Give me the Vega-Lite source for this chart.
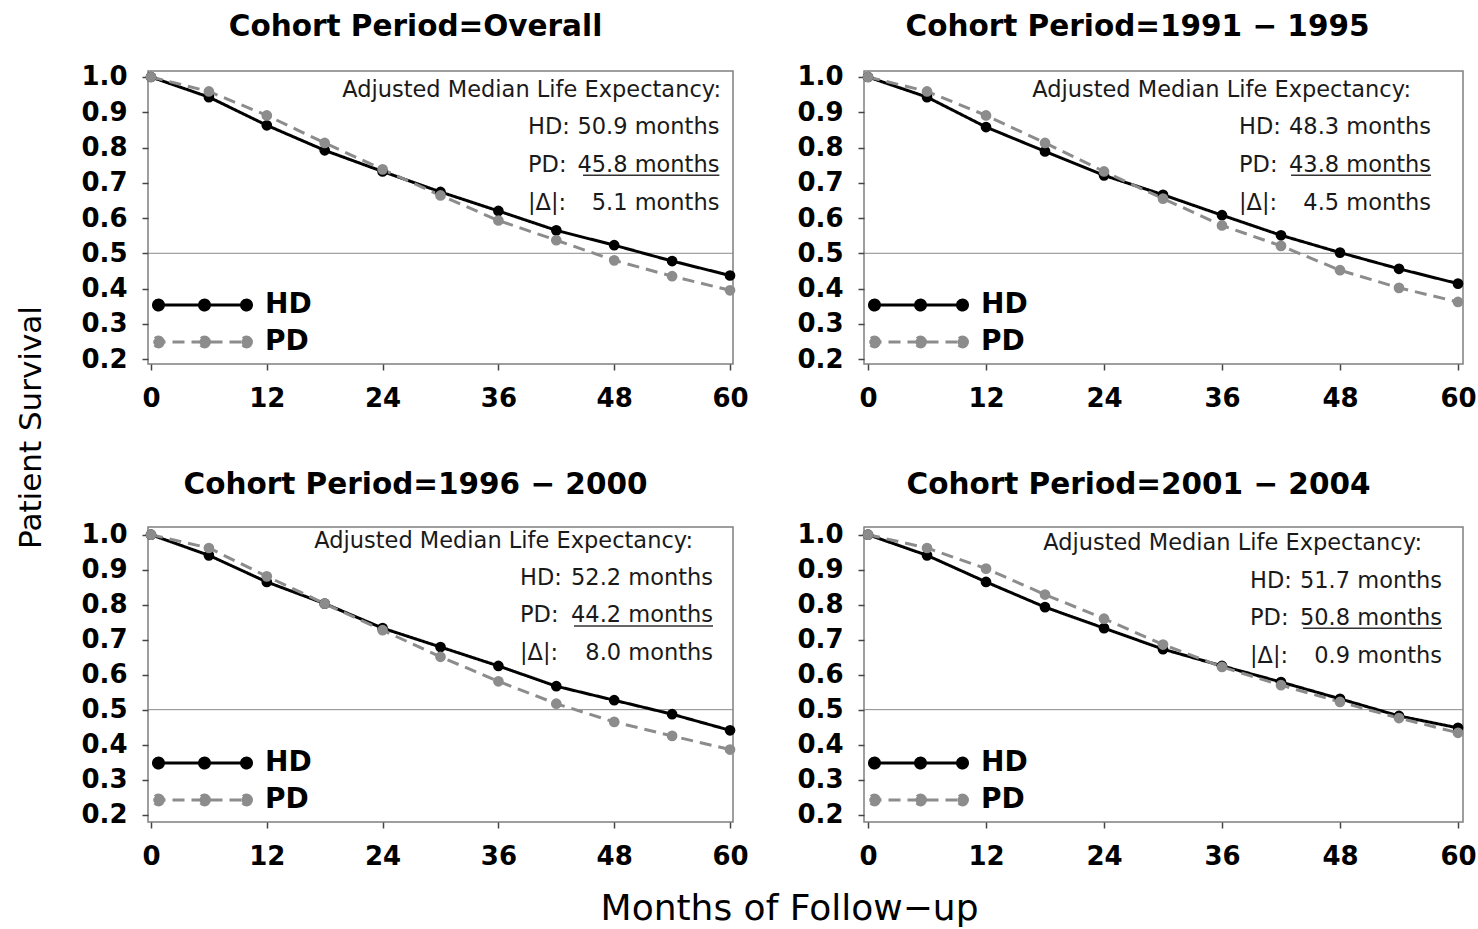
{
  "$schema": "https://vega.github.io/schema/vega-lite/v6.json",
  "background": "white",
  "padding": {"left": 14, "top": 11, "right": 5, "bottom": 0},
  "bounds": "flush",
  "align": "each",
  "columns": 2,
  "spacing": {"row": 163, "column": 131},
  "title": {"text": "Months of Follow−up", "orient": "bottom", "anchor": "middle", "frame": "bounds", "font": "DejaVu Sans", "fontSize": 36, "fontWeight": "normal", "baseline": "top", "offset": 22, "dx": 44},
  "resolve": {"scale": {"color": "independent", "strokeDash": "independent"}, "legend": {"color": "independent", "strokeDash": "independent"}},
  "datasets": {
    "surv": [
      {"panel":"Overall","group":"HD","month":0,"survival":1.0},
      {"panel":"Overall","group":"HD","month":6,"survival":0.943},
      {"panel":"Overall","group":"HD","month":12,"survival":0.863},
      {"panel":"Overall","group":"HD","month":18,"survival":0.792},
      {"panel":"Overall","group":"HD","month":24,"survival":0.732},
      {"panel":"Overall","group":"HD","month":30,"survival":0.674},
      {"panel":"Overall","group":"HD","month":36,"survival":0.620},
      {"panel":"Overall","group":"HD","month":42,"survival":0.565},
      {"panel":"Overall","group":"HD","month":48,"survival":0.523},
      {"panel":"Overall","group":"HD","month":54,"survival":0.478},
      {"panel":"Overall","group":"HD","month":60,"survival":0.437},
      {"panel":"Overall","group":"PD","month":0,"survival":1.0},
      {"panel":"Overall","group":"PD","month":6,"survival":0.959},
      {"panel":"Overall","group":"PD","month":12,"survival":0.891},
      {"panel":"Overall","group":"PD","month":18,"survival":0.813},
      {"panel":"Overall","group":"PD","month":24,"survival":0.738},
      {"panel":"Overall","group":"PD","month":30,"survival":0.664},
      {"panel":"Overall","group":"PD","month":36,"survival":0.593},
      {"panel":"Overall","group":"PD","month":42,"survival":0.537},
      {"panel":"Overall","group":"PD","month":48,"survival":0.480},
      {"panel":"Overall","group":"PD","month":54,"survival":0.435},
      {"panel":"Overall","group":"PD","month":60,"survival":0.395},
      {"panel":"1991-1995","group":"HD","month":0,"survival":1.0},
      {"panel":"1991-1995","group":"HD","month":6,"survival":0.943},
      {"panel":"1991-1995","group":"HD","month":12,"survival":0.858},
      {"panel":"1991-1995","group":"HD","month":18,"survival":0.789},
      {"panel":"1991-1995","group":"HD","month":24,"survival":0.721},
      {"panel":"1991-1995","group":"HD","month":30,"survival":0.666},
      {"panel":"1991-1995","group":"HD","month":36,"survival":0.608},
      {"panel":"1991-1995","group":"HD","month":42,"survival":0.551},
      {"panel":"1991-1995","group":"HD","month":48,"survival":0.502},
      {"panel":"1991-1995","group":"HD","month":54,"survival":0.456},
      {"panel":"1991-1995","group":"HD","month":60,"survival":0.414},
      {"panel":"1991-1995","group":"PD","month":0,"survival":1.0},
      {"panel":"1991-1995","group":"PD","month":6,"survival":0.959},
      {"panel":"1991-1995","group":"PD","month":12,"survival":0.891},
      {"panel":"1991-1995","group":"PD","month":18,"survival":0.813},
      {"panel":"1991-1995","group":"PD","month":24,"survival":0.732},
      {"panel":"1991-1995","group":"PD","month":30,"survival":0.655},
      {"panel":"1991-1995","group":"PD","month":36,"survival":0.579},
      {"panel":"1991-1995","group":"PD","month":42,"survival":0.521},
      {"panel":"1991-1995","group":"PD","month":48,"survival":0.452},
      {"panel":"1991-1995","group":"PD","month":54,"survival":0.402},
      {"panel":"1991-1995","group":"PD","month":60,"survival":0.362},
      {"panel":"1996-2000","group":"HD","month":0,"survival":1.0},
      {"panel":"1996-2000","group":"HD","month":6,"survival":0.941},
      {"panel":"1996-2000","group":"HD","month":12,"survival":0.865},
      {"panel":"1996-2000","group":"HD","month":18,"survival":0.803},
      {"panel":"1996-2000","group":"HD","month":24,"survival":0.733},
      {"panel":"1996-2000","group":"HD","month":30,"survival":0.679},
      {"panel":"1996-2000","group":"HD","month":36,"survival":0.625},
      {"panel":"1996-2000","group":"HD","month":42,"survival":0.567},
      {"panel":"1996-2000","group":"HD","month":48,"survival":0.527},
      {"panel":"1996-2000","group":"HD","month":54,"survival":0.487},
      {"panel":"1996-2000","group":"HD","month":60,"survival":0.441},
      {"panel":"1996-2000","group":"PD","month":0,"survival":1.0},
      {"panel":"1996-2000","group":"PD","month":6,"survival":0.962},
      {"panel":"1996-2000","group":"PD","month":12,"survival":0.881},
      {"panel":"1996-2000","group":"PD","month":18,"survival":0.803},
      {"panel":"1996-2000","group":"PD","month":24,"survival":0.727},
      {"panel":"1996-2000","group":"PD","month":30,"survival":0.651},
      {"panel":"1996-2000","group":"PD","month":36,"survival":0.581},
      {"panel":"1996-2000","group":"PD","month":42,"survival":0.517},
      {"panel":"1996-2000","group":"PD","month":48,"survival":0.465},
      {"panel":"1996-2000","group":"PD","month":54,"survival":0.425},
      {"panel":"1996-2000","group":"PD","month":60,"survival":0.386},
      {"panel":"2001-2004","group":"HD","month":0,"survival":1.0},
      {"panel":"2001-2004","group":"HD","month":6,"survival":0.941},
      {"panel":"2001-2004","group":"HD","month":12,"survival":0.865},
      {"panel":"2001-2004","group":"HD","month":18,"survival":0.793},
      {"panel":"2001-2004","group":"HD","month":24,"survival":0.733},
      {"panel":"2001-2004","group":"HD","month":30,"survival":0.673},
      {"panel":"2001-2004","group":"HD","month":36,"survival":0.625},
      {"panel":"2001-2004","group":"HD","month":42,"survival":0.579},
      {"panel":"2001-2004","group":"HD","month":48,"survival":0.531},
      {"panel":"2001-2004","group":"HD","month":54,"survival":0.482},
      {"panel":"2001-2004","group":"HD","month":60,"survival":0.448},
      {"panel":"2001-2004","group":"PD","month":0,"survival":1.0},
      {"panel":"2001-2004","group":"PD","month":6,"survival":0.962},
      {"panel":"2001-2004","group":"PD","month":12,"survival":0.903},
      {"panel":"2001-2004","group":"PD","month":18,"survival":0.829},
      {"panel":"2001-2004","group":"PD","month":24,"survival":0.760},
      {"panel":"2001-2004","group":"PD","month":30,"survival":0.686},
      {"panel":"2001-2004","group":"PD","month":36,"survival":0.622},
      {"panel":"2001-2004","group":"PD","month":42,"survival":0.570},
      {"panel":"2001-2004","group":"PD","month":48,"survival":0.522},
      {"panel":"2001-2004","group":"PD","month":54,"survival":0.476},
      {"panel":"2001-2004","group":"PD","month":60,"survival":0.434}
    ],
    "notes": [
      {"panel":"Overall","heading":"Adjusted Median Life Expectancy:","hd":"50.9 months","pd":"45.8 months","delta":"5.1 months"},
      {"panel":"1991-1995","heading":"Adjusted Median Life Expectancy:","hd":"48.3 months","pd":"43.8 months","delta":"4.5 months"},
      {"panel":"1996-2000","heading":"Adjusted Median Life Expectancy:","hd":"52.2 months","pd":"44.2 months","delta":"8.0 months"},
      {"panel":"2001-2004","heading":"Adjusted Median Life Expectancy:","hd":"51.7 months","pd":"50.8 months","delta":"0.9 months"}
    ]
  },
  "concat": [
    {
      "width": 585, "height": 293,
      "title": {"text": "Cohort  Period=Overall", "dx": -25},
      "layer": [
        {"data": {"values": [{}]}, "mark": {"type": "rule", "color": "#8a8a8a", "strokeWidth": 1}, "encoding": {"y": {"datum": 0.5, "type": "quantitative", "scale": {"domain": [0.186, 1.017], "nice": false, "zero": false}, "axis": {"values": [0.2,0.3,0.4,0.5,0.6,0.7,0.8,0.9,1.0], "format": ".1f", "labelOverlap": false, "tickCount": 9, "title": "Patient Survival", "titleX": -117, "titleY": 356, "titleAngle": -90, "titleAlign": "center", "titleBaseline": "middle"}}}},
        {"data": {"name": "surv"}, "transform": [{"filter": {"field": "panel", "equal": "Overall"}}],
         "mark": {"type": "line", "strokeWidth": 3},
         "encoding": {
           "x": {"field": "month", "type": "quantitative", "scale": {"domain": [-0.31, 60.31], "nice": false, "zero": false}, "axis": {"values": [0,12,24,36,48,60], "title": null, "labelOverlap": false}},
           "y": {"field": "survival", "type": "quantitative", "scale": {"domain": [0.186, 1.017], "nice": false, "zero": false}, "axis": {"values": [0.2,0.3,0.4,0.5,0.6,0.7,0.8,0.9,1.0], "format": ".1f", "labelOverlap": false, "tickCount": 9, "title": "Patient Survival", "titleX": -117, "titleY": 356, "titleAngle": -90, "titleAlign": "center", "titleBaseline": "middle"}},
           "color": {"field": "group", "type": "nominal", "scale": {"domain": ["HD","PD"], "range": ["#000000","#8c8c8c"]},
             "legend": {"title": null, "orient": "bottom-left", "offset": 8, "padding": 0,
               "symbolType": "M-2.75,0L13.25,0M-1.09,0C-1.09,0.458,-1.462,0.83,-1.92,0.83C-2.378,0.83,-2.75,0.458,-2.75,0C-2.75,-0.458,-2.378,-0.83,-1.92,-0.83C-1.462,-0.83,-1.09,-0.458,-1.09,0ZM6.58,0C6.58,0.458,6.208,0.83,5.75,0.83C5.292,0.83,4.92,0.458,4.92,0C4.92,-0.458,5.292,-0.83,5.75,-0.83C6.208,-0.83,6.58,-0.458,6.58,0ZM13.58,0C13.58,0.458,13.208,0.83,12.75,0.83C12.292,0.83,11.92,0.458,11.92,0C11.92,-0.458,12.292,-0.83,12.75,-0.83C13.208,-0.83,13.58,-0.458,13.58,0Z",
               "symbolSize": 144, "symbolStrokeWidth": 3,
               "labelFont": "DejaVu Sans", "labelFontSize": 28, "labelFontWeight": "bold", "labelColor": "#000000", "labelOffset": 81, "rowPadding": 9,
               "encode": {"symbols": {"update": {
                 "fill": {"condition": {"test": "datum.value === 'PD'", "value": "#8c8c8c"}, "value": "#000000"},
                 "stroke": {"condition": {"test": "datum.value === 'PD'", "value": "#8c8c8c"}, "value": "#000000"},
                 "strokeDash": {"condition": {"test": "datum.value === 'PD'", "value": [12,7]}, "value": [1,0]},
                 "opacity": {"value": 1}}}}}},
           "strokeDash": {"field": "group", "type": "nominal", "scale": {"domain": ["HD","PD"], "range": [[1,0],[12,7]]}, "legend": null}
         }},
        {"data": {"name": "surv"}, "transform": [{"filter": {"field": "panel", "equal": "Overall"}}],
         "mark": {"type": "point", "filled": true, "opacity": 1, "size": 115},
         "encoding": {"x": {"field": "month", "type": "quantitative"}, "y": {"field": "survival", "type": "quantitative"}, "color": {"field": "group", "type": "nominal", "legend": null}}},
        {"data": {"name": "notes"}, "transform": [{"filter": {"field": "panel", "equal": "Overall"}}], "mark": {"type": "text", "align": "right"}, "encoding": {"x": {"datum": 59.07, "type": "quantitative"}, "y": {"datum": 0.9645, "type": "quantitative"}, "text": {"field": "heading"}}},
        {"data": {"name": "notes"}, "transform": [{"filter": {"field": "panel", "equal": "Overall"}}], "mark": {"type": "text", "align": "left", "text": "HD:"}, "encoding": {"x": {"datum": 39.07, "type": "quantitative"}, "y": {"datum": 0.858, "type": "quantitative"}}},
        {"data": {"name": "notes"}, "transform": [{"filter": {"field": "panel", "equal": "Overall"}}], "mark": {"type": "text", "align": "right"}, "encoding": {"x": {"datum": 58.9, "type": "quantitative"}, "y": {"datum": 0.858, "type": "quantitative"}, "text": {"field": "hd"}}},
        {"data": {"name": "notes"}, "transform": [{"filter": {"field": "panel", "equal": "Overall"}}], "mark": {"type": "text", "align": "left", "text": "PD:"}, "encoding": {"x": {"datum": 39.07, "type": "quantitative"}, "y": {"datum": 0.750, "type": "quantitative"}}},
        {"data": {"name": "notes"}, "transform": [{"filter": {"field": "panel", "equal": "Overall"}}], "mark": {"type": "text", "align": "right"}, "encoding": {"x": {"datum": 58.9, "type": "quantitative"}, "y": {"datum": 0.750, "type": "quantitative"}, "text": {"field": "pd"}}},
        {"data": {"name": "notes"}, "transform": [{"filter": {"field": "panel", "equal": "Overall"}}], "mark": {"type": "rule", "color": "#333333", "strokeWidth": 1.5}, "encoding": {"x": {"datum": 44.77, "type": "quantitative"}, "x2": {"datum": 58.9}, "y": {"datum": 0.721, "type": "quantitative"}}},
        {"data": {"name": "notes"}, "transform": [{"filter": {"field": "panel", "equal": "Overall"}}], "mark": {"type": "text", "align": "left", "text": "|Δ|:"}, "encoding": {"x": {"datum": 39.07, "type": "quantitative"}, "y": {"datum": 0.644, "type": "quantitative"}}},
        {"data": {"name": "notes"}, "transform": [{"filter": {"field": "panel", "equal": "Overall"}}], "mark": {"type": "text", "align": "right"}, "encoding": {"x": {"datum": 58.9, "type": "quantitative"}, "y": {"datum": 0.644, "type": "quantitative"}, "text": {"field": "delta"}}}
      ]
    },
    {
      "width": 599, "height": 293,
      "title": {"text": "Cohort  Period=1991 − 1995", "dx": -26},
      "layer": [
        {"data": {"values": [{}]}, "mark": {"type": "rule", "color": "#8a8a8a", "strokeWidth": 1}, "encoding": {"y": {"datum": 0.5, "type": "quantitative", "scale": {"domain": [0.186, 1.017], "nice": false, "zero": false}, "axis": {"values": [0.2,0.3,0.4,0.5,0.6,0.7,0.8,0.9,1.0], "format": ".1f", "labelOverlap": false, "tickCount": 9, "title": null}}}},
        {"data": {"name": "surv"}, "transform": [{"filter": {"field": "panel", "equal": "1991-1995"}}],
         "mark": {"type": "line", "strokeWidth": 3},
         "encoding": {
           "x": {"field": "month", "type": "quantitative", "scale": {"domain": [-0.41, 60.51], "nice": false, "zero": false}, "axis": {"values": [0,12,24,36,48,60], "title": null, "labelOverlap": false}},
           "y": {"field": "survival", "type": "quantitative", "scale": {"domain": [0.186, 1.017], "nice": false, "zero": false}, "axis": {"values": [0.2,0.3,0.4,0.5,0.6,0.7,0.8,0.9,1.0], "format": ".1f", "labelOverlap": false, "tickCount": 9, "title": null}},
           "color": {"field": "group", "type": "nominal", "scale": {"domain": ["HD","PD"], "range": ["#000000","#8c8c8c"]},
             "legend": {"title": null, "orient": "bottom-left", "offset": 8, "padding": 0,
               "symbolType": "M-2.75,0L13.25,0M-1.09,0C-1.09,0.458,-1.462,0.83,-1.92,0.83C-2.378,0.83,-2.75,0.458,-2.75,0C-2.75,-0.458,-2.378,-0.83,-1.92,-0.83C-1.462,-0.83,-1.09,-0.458,-1.09,0ZM6.58,0C6.58,0.458,6.208,0.83,5.75,0.83C5.292,0.83,4.92,0.458,4.92,0C4.92,-0.458,5.292,-0.83,5.75,-0.83C6.208,-0.83,6.58,-0.458,6.58,0ZM13.58,0C13.58,0.458,13.208,0.83,12.75,0.83C12.292,0.83,11.92,0.458,11.92,0C11.92,-0.458,12.292,-0.83,12.75,-0.83C13.208,-0.83,13.58,-0.458,13.58,0Z",
               "symbolSize": 144, "symbolStrokeWidth": 3,
               "labelFont": "DejaVu Sans", "labelFontSize": 28, "labelFontWeight": "bold", "labelColor": "#000000", "labelOffset": 81, "rowPadding": 9,
               "encode": {"symbols": {"update": {
                 "fill": {"condition": {"test": "datum.value === 'PD'", "value": "#8c8c8c"}, "value": "#000000"},
                 "stroke": {"condition": {"test": "datum.value === 'PD'", "value": "#8c8c8c"}, "value": "#000000"},
                 "strokeDash": {"condition": {"test": "datum.value === 'PD'", "value": [12,7]}, "value": [1,0]},
                 "opacity": {"value": 1}}}}}},
           "strokeDash": {"field": "group", "type": "nominal", "scale": {"domain": ["HD","PD"], "range": [[1,0],[12,7]]}, "legend": null}
         }},
        {"data": {"name": "surv"}, "transform": [{"filter": {"field": "panel", "equal": "1991-1995"}}],
         "mark": {"type": "point", "filled": true, "opacity": 1, "size": 115},
         "encoding": {"x": {"field": "month", "type": "quantitative"}, "y": {"field": "survival", "type": "quantitative"}, "color": {"field": "group", "type": "nominal", "legend": null}}},
        {"data": {"name": "notes"}, "transform": [{"filter": {"field": "panel", "equal": "1991-1995"}}], "mark": {"type": "text", "align": "right"}, "encoding": {"x": {"datum": 55.22, "type": "quantitative"}, "y": {"datum": 0.9645, "type": "quantitative"}, "text": {"field": "heading"}}},
        {"data": {"name": "notes"}, "transform": [{"filter": {"field": "panel", "equal": "1991-1995"}}], "mark": {"type": "text", "align": "left", "text": "HD:"}, "encoding": {"x": {"datum": 37.73, "type": "quantitative"}, "y": {"datum": 0.858, "type": "quantitative"}}},
        {"data": {"name": "notes"}, "transform": [{"filter": {"field": "panel", "equal": "1991-1995"}}], "mark": {"type": "text", "align": "right"}, "encoding": {"x": {"datum": 57.26, "type": "quantitative"}, "y": {"datum": 0.858, "type": "quantitative"}, "text": {"field": "hd"}}},
        {"data": {"name": "notes"}, "transform": [{"filter": {"field": "panel", "equal": "1991-1995"}}], "mark": {"type": "text", "align": "left", "text": "PD:"}, "encoding": {"x": {"datum": 37.73, "type": "quantitative"}, "y": {"datum": 0.750, "type": "quantitative"}}},
        {"data": {"name": "notes"}, "transform": [{"filter": {"field": "panel", "equal": "1991-1995"}}], "mark": {"type": "text", "align": "right"}, "encoding": {"x": {"datum": 57.26, "type": "quantitative"}, "y": {"datum": 0.750, "type": "quantitative"}, "text": {"field": "pd"}}},
        {"data": {"name": "notes"}, "transform": [{"filter": {"field": "panel", "equal": "1991-1995"}}], "mark": {"type": "rule", "color": "#333333", "strokeWidth": 1.5}, "encoding": {"x": {"datum": 43.02, "type": "quantitative"}, "x2": {"datum": 57.26}, "y": {"datum": 0.721, "type": "quantitative"}}},
        {"data": {"name": "notes"}, "transform": [{"filter": {"field": "panel", "equal": "1991-1995"}}], "mark": {"type": "text", "align": "left", "text": "|Δ|:"}, "encoding": {"x": {"datum": 37.73, "type": "quantitative"}, "y": {"datum": 0.644, "type": "quantitative"}}},
        {"data": {"name": "notes"}, "transform": [{"filter": {"field": "panel", "equal": "1991-1995"}}], "mark": {"type": "text", "align": "right"}, "encoding": {"x": {"datum": 57.26, "type": "quantitative"}, "y": {"datum": 0.644, "type": "quantitative"}, "text": {"field": "delta"}}}
      ]
    },
    {
      "width": 585, "height": 295,
      "title": {"text": "Cohort  Period=1996 − 2000", "dx": -25},
      "layer": [
        {"data": {"values": [{}]}, "mark": {"type": "rule", "color": "#8a8a8a", "strokeWidth": 1}, "encoding": {"y": {"datum": 0.5, "type": "quantitative", "scale": {"domain": [0.179, 1.022], "nice": false, "zero": false}, "axis": {"values": [0.2,0.3,0.4,0.5,0.6,0.7,0.8,0.9,1.0], "format": ".1f", "labelOverlap": false, "tickCount": 9, "title": null}}}},
        {"data": {"name": "surv"}, "transform": [{"filter": {"field": "panel", "equal": "1996-2000"}}],
         "mark": {"type": "line", "strokeWidth": 3},
         "encoding": {
           "x": {"field": "month", "type": "quantitative", "scale": {"domain": [-0.31, 60.31], "nice": false, "zero": false}, "axis": {"values": [0,12,24,36,48,60], "title": null, "labelOverlap": false}},
           "y": {"field": "survival", "type": "quantitative", "scale": {"domain": [0.179, 1.022], "nice": false, "zero": false}, "axis": {"values": [0.2,0.3,0.4,0.5,0.6,0.7,0.8,0.9,1.0], "format": ".1f", "labelOverlap": false, "tickCount": 9, "title": null}},
           "color": {"field": "group", "type": "nominal", "scale": {"domain": ["HD","PD"], "range": ["#000000","#8c8c8c"]},
             "legend": {"title": null, "orient": "bottom-left", "offset": 8, "padding": 0,
               "symbolType": "M-2.75,0L13.25,0M-1.09,0C-1.09,0.458,-1.462,0.83,-1.92,0.83C-2.378,0.83,-2.75,0.458,-2.75,0C-2.75,-0.458,-2.378,-0.83,-1.92,-0.83C-1.462,-0.83,-1.09,-0.458,-1.09,0ZM6.58,0C6.58,0.458,6.208,0.83,5.75,0.83C5.292,0.83,4.92,0.458,4.92,0C4.92,-0.458,5.292,-0.83,5.75,-0.83C6.208,-0.83,6.58,-0.458,6.58,0ZM13.58,0C13.58,0.458,13.208,0.83,12.75,0.83C12.292,0.83,11.92,0.458,11.92,0C11.92,-0.458,12.292,-0.83,12.75,-0.83C13.208,-0.83,13.58,-0.458,13.58,0Z",
               "symbolSize": 144, "symbolStrokeWidth": 3,
               "labelFont": "DejaVu Sans", "labelFontSize": 28, "labelFontWeight": "bold", "labelColor": "#000000", "labelOffset": 81, "rowPadding": 9,
               "encode": {"symbols": {"update": {
                 "fill": {"condition": {"test": "datum.value === 'PD'", "value": "#8c8c8c"}, "value": "#000000"},
                 "stroke": {"condition": {"test": "datum.value === 'PD'", "value": "#8c8c8c"}, "value": "#000000"},
                 "strokeDash": {"condition": {"test": "datum.value === 'PD'", "value": [12,7]}, "value": [1,0]},
                 "opacity": {"value": 1}}}}}},
           "strokeDash": {"field": "group", "type": "nominal", "scale": {"domain": ["HD","PD"], "range": [[1,0],[12,7]]}, "legend": null}
         }},
        {"data": {"name": "surv"}, "transform": [{"filter": {"field": "panel", "equal": "1996-2000"}}],
         "mark": {"type": "point", "filled": true, "opacity": 1, "size": 115},
         "encoding": {"x": {"field": "month", "type": "quantitative"}, "y": {"field": "survival", "type": "quantitative"}, "color": {"field": "group", "type": "nominal", "legend": null}}},
        {"data": {"name": "notes"}, "transform": [{"filter": {"field": "panel", "equal": "1996-2000"}}], "mark": {"type": "text", "align": "right"}, "encoding": {"x": {"datum": 56.17, "type": "quantitative"}, "y": {"datum": 0.982, "type": "quantitative"}, "text": {"field": "heading"}}},
        {"data": {"name": "notes"}, "transform": [{"filter": {"field": "panel", "equal": "1996-2000"}}], "mark": {"type": "text", "align": "left", "text": "HD:"}, "encoding": {"x": {"datum": 38.24, "type": "quantitative"}, "y": {"datum": 0.877, "type": "quantitative"}}},
        {"data": {"name": "notes"}, "transform": [{"filter": {"field": "panel", "equal": "1996-2000"}}], "mark": {"type": "text", "align": "right"}, "encoding": {"x": {"datum": 58.24, "type": "quantitative"}, "y": {"datum": 0.877, "type": "quantitative"}, "text": {"field": "hd"}}},
        {"data": {"name": "notes"}, "transform": [{"filter": {"field": "panel", "equal": "1996-2000"}}], "mark": {"type": "text", "align": "left", "text": "PD:"}, "encoding": {"x": {"datum": 38.24, "type": "quantitative"}, "y": {"datum": 0.771, "type": "quantitative"}}},
        {"data": {"name": "notes"}, "transform": [{"filter": {"field": "panel", "equal": "1996-2000"}}], "mark": {"type": "text", "align": "right"}, "encoding": {"x": {"datum": 58.24, "type": "quantitative"}, "y": {"datum": 0.771, "type": "quantitative"}, "text": {"field": "pd"}}},
        {"data": {"name": "notes"}, "transform": [{"filter": {"field": "panel", "equal": "1996-2000"}}], "mark": {"type": "rule", "color": "#333333", "strokeWidth": 1.5}, "encoding": {"x": {"datum": 43.83, "type": "quantitative"}, "x2": {"datum": 58.24}, "y": {"datum": 0.739, "type": "quantitative"}}},
        {"data": {"name": "notes"}, "transform": [{"filter": {"field": "panel", "equal": "1996-2000"}}], "mark": {"type": "text", "align": "left", "text": "|Δ|:"}, "encoding": {"x": {"datum": 38.24, "type": "quantitative"}, "y": {"datum": 0.663, "type": "quantitative"}}},
        {"data": {"name": "notes"}, "transform": [{"filter": {"field": "panel", "equal": "1996-2000"}}], "mark": {"type": "text", "align": "right"}, "encoding": {"x": {"datum": 58.24, "type": "quantitative"}, "y": {"datum": 0.663, "type": "quantitative"}, "text": {"field": "delta"}}}
      ]
    },
    {
      "width": 599, "height": 295,
      "title": {"text": "Cohort  Period=2001 − 2004", "dx": -25},
      "layer": [
        {"data": {"values": [{}]}, "mark": {"type": "rule", "color": "#8a8a8a", "strokeWidth": 1}, "encoding": {"y": {"datum": 0.5, "type": "quantitative", "scale": {"domain": [0.179, 1.022], "nice": false, "zero": false}, "axis": {"values": [0.2,0.3,0.4,0.5,0.6,0.7,0.8,0.9,1.0], "format": ".1f", "labelOverlap": false, "tickCount": 9, "title": null}}}},
        {"data": {"name": "surv"}, "transform": [{"filter": {"field": "panel", "equal": "2001-2004"}}],
         "mark": {"type": "line", "strokeWidth": 3},
         "encoding": {
           "x": {"field": "month", "type": "quantitative", "scale": {"domain": [-0.41, 60.51], "nice": false, "zero": false}, "axis": {"values": [0,12,24,36,48,60], "title": null, "labelOverlap": false}},
           "y": {"field": "survival", "type": "quantitative", "scale": {"domain": [0.179, 1.022], "nice": false, "zero": false}, "axis": {"values": [0.2,0.3,0.4,0.5,0.6,0.7,0.8,0.9,1.0], "format": ".1f", "labelOverlap": false, "tickCount": 9, "title": null}},
           "color": {"field": "group", "type": "nominal", "scale": {"domain": ["HD","PD"], "range": ["#000000","#8c8c8c"]},
             "legend": {"title": null, "orient": "bottom-left", "offset": 8, "padding": 0,
               "symbolType": "M-2.75,0L13.25,0M-1.09,0C-1.09,0.458,-1.462,0.83,-1.92,0.83C-2.378,0.83,-2.75,0.458,-2.75,0C-2.75,-0.458,-2.378,-0.83,-1.92,-0.83C-1.462,-0.83,-1.09,-0.458,-1.09,0ZM6.58,0C6.58,0.458,6.208,0.83,5.75,0.83C5.292,0.83,4.92,0.458,4.92,0C4.92,-0.458,5.292,-0.83,5.75,-0.83C6.208,-0.83,6.58,-0.458,6.58,0ZM13.58,0C13.58,0.458,13.208,0.83,12.75,0.83C12.292,0.83,11.92,0.458,11.92,0C11.92,-0.458,12.292,-0.83,12.75,-0.83C13.208,-0.83,13.58,-0.458,13.58,0Z",
               "symbolSize": 144, "symbolStrokeWidth": 3,
               "labelFont": "DejaVu Sans", "labelFontSize": 28, "labelFontWeight": "bold", "labelColor": "#000000", "labelOffset": 81, "rowPadding": 9,
               "encode": {"symbols": {"update": {
                 "fill": {"condition": {"test": "datum.value === 'PD'", "value": "#8c8c8c"}, "value": "#000000"},
                 "stroke": {"condition": {"test": "datum.value === 'PD'", "value": "#8c8c8c"}, "value": "#000000"},
                 "strokeDash": {"condition": {"test": "datum.value === 'PD'", "value": [12,7]}, "value": [1,0]},
                 "opacity": {"value": 1}}}}}},
           "strokeDash": {"field": "group", "type": "nominal", "scale": {"domain": ["HD","PD"], "range": [[1,0],[12,7]]}, "legend": null}
         }},
        {"data": {"name": "surv"}, "transform": [{"filter": {"field": "panel", "equal": "2001-2004"}}],
         "mark": {"type": "point", "filled": true, "opacity": 1, "size": 115},
         "encoding": {"x": {"field": "month", "type": "quantitative"}, "y": {"field": "survival", "type": "quantitative"}, "color": {"field": "group", "type": "nominal", "legend": null}}},
        {"data": {"name": "notes"}, "transform": [{"filter": {"field": "panel", "equal": "2001-2004"}}], "mark": {"type": "text", "align": "right"}, "encoding": {"x": {"datum": 56.34, "type": "quantitative"}, "y": {"datum": 0.976, "type": "quantitative"}, "text": {"field": "heading"}}},
        {"data": {"name": "notes"}, "transform": [{"filter": {"field": "panel", "equal": "2001-2004"}}], "mark": {"type": "text", "align": "left", "text": "HD:"}, "encoding": {"x": {"datum": 38.85, "type": "quantitative"}, "y": {"datum": 0.868, "type": "quantitative"}}},
        {"data": {"name": "notes"}, "transform": [{"filter": {"field": "panel", "equal": "2001-2004"}}], "mark": {"type": "text", "align": "right"}, "encoding": {"x": {"datum": 58.37, "type": "quantitative"}, "y": {"datum": 0.868, "type": "quantitative"}, "text": {"field": "hd"}}},
        {"data": {"name": "notes"}, "transform": [{"filter": {"field": "panel", "equal": "2001-2004"}}], "mark": {"type": "text", "align": "left", "text": "PD:"}, "encoding": {"x": {"datum": 38.85, "type": "quantitative"}, "y": {"datum": 0.762, "type": "quantitative"}}},
        {"data": {"name": "notes"}, "transform": [{"filter": {"field": "panel", "equal": "2001-2004"}}], "mark": {"type": "text", "align": "right"}, "encoding": {"x": {"datum": 58.37, "type": "quantitative"}, "y": {"datum": 0.762, "type": "quantitative"}, "text": {"field": "pd"}}},
        {"data": {"name": "notes"}, "transform": [{"filter": {"field": "panel", "equal": "2001-2004"}}], "mark": {"type": "rule", "color": "#333333", "strokeWidth": 1.5}, "encoding": {"x": {"datum": 44.24, "type": "quantitative"}, "x2": {"datum": 58.37}, "y": {"datum": 0.733, "type": "quantitative"}}},
        {"data": {"name": "notes"}, "transform": [{"filter": {"field": "panel", "equal": "2001-2004"}}], "mark": {"type": "text", "align": "left", "text": "|Δ|:"}, "encoding": {"x": {"datum": 38.85, "type": "quantitative"}, "y": {"datum": 0.653, "type": "quantitative"}}},
        {"data": {"name": "notes"}, "transform": [{"filter": {"field": "panel", "equal": "2001-2004"}}], "mark": {"type": "text", "align": "right"}, "encoding": {"x": {"datum": 58.37, "type": "quantitative"}, "y": {"datum": 0.653, "type": "quantitative"}, "text": {"field": "delta"}}}
      ]
    }
  ],
  "config": {
    "view": {"stroke": "#7f7f7f", "strokeWidth": 1.5},
    "axis": {"domain": false, "grid": false, "ticks": true, "tickColor": "#444444", "tickSize": 6, "tickWidth": 1.5,
      "labelFont": "DejaVu Sans", "labelFontSize": 26, "labelFontWeight": "bold", "labelColor": "#000000", "labelPadding": 15,
      "labelFlush": false, "labelOverlap": false, "labelBound": false,
      "titleFont": "DejaVu Sans", "titleFontSize": 31, "titleFontWeight": "normal", "titleColor": "#000000"},
    "title": {"font": "DejaVu Sans", "fontSize": 29.5, "fontWeight": "bold", "color": "#000000", "anchor": "middle", "frame": "group", "offset": 21, "baseline": "alphabetic"},
    "text": {"font": "DejaVu Sans", "fontSize": 22.5, "color": "#1a1a1a", "baseline": "middle"}
  }
}
